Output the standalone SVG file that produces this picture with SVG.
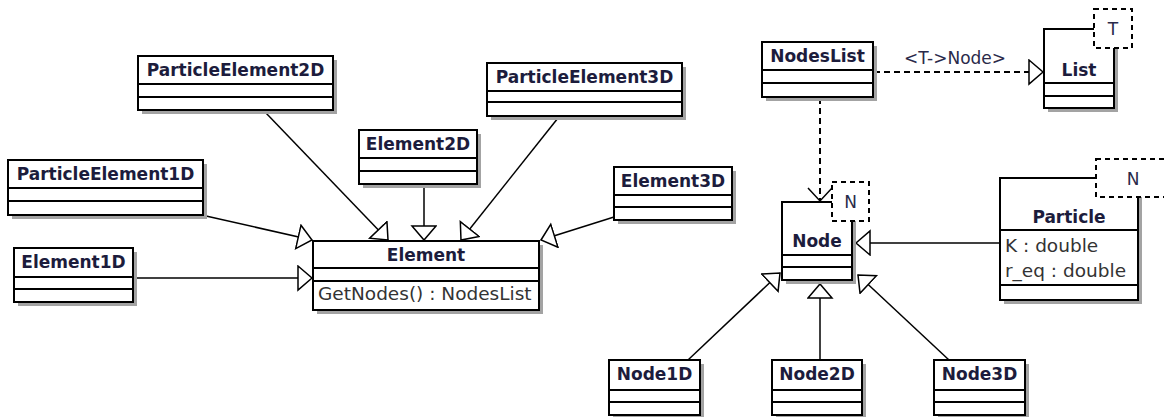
<svg xmlns="http://www.w3.org/2000/svg" width="1164" height="417" viewBox="0 0 1164 417">
  <style>
    .shadow{fill:#a3a3a3}
    .box{fill:#fff;stroke:#000;stroke-width:2}
    .div{stroke:#000;stroke-width:2}
    .tpl{fill:#fff;stroke:#000;stroke-width:2;stroke-dasharray:5 4}
    .name{font-family:"DejaVu Sans",Verdana,sans-serif;font-weight:bold;font-size:17px;fill:#1c1c3c;text-anchor:middle}
    .attr{font-family:"DejaVu Sans",Verdana,sans-serif;font-size:18.5px;fill:#333}
    .param{font-family:"DejaVu Sans",Verdana,sans-serif;font-size:17px;fill:#2a2a4a;text-anchor:middle}
    .edge{stroke:#000;stroke-width:1.5;fill:none}
    .dash{stroke-width:2;stroke-dasharray:6 4}
  </style>
  <defs>
    <!-- hollow triangle: generalization / realization -->
    <marker id="gen" markerUnits="userSpaceOnUse" markerWidth="18" markerHeight="28" refX="15" refY="13" orient="auto">
      <path d="M1,1 L15,13 L1,25 Z" fill="#fff" stroke="#000" stroke-width="1.5"/>
    </marker>
    <!-- open arrow: dependency -->
    <marker id="dep" markerUnits="userSpaceOnUse" markerWidth="18" markerHeight="28" refX="14" refY="13" orient="auto">
      <path d="M1,1 L14,13 L1,25" fill="none" stroke="#000" stroke-width="1.5"/>
    </marker>
  </defs>

  <g id="connectors">
    <line class="edge" x1="265" y1="112" x2="388" y2="240" marker-end="url(#gen)"/>
    <line class="edge" x1="558" y1="118" x2="461" y2="240" marker-end="url(#gen)"/>
    <line class="edge" x1="424" y1="185" x2="424" y2="240" marker-end="url(#gen)"/>
    <line class="edge" x1="206" y1="216" x2="312" y2="240" marker-end="url(#gen)"/>
    <line class="edge" x1="134" y1="278" x2="312" y2="278" marker-end="url(#gen)"/>
    <line class="edge" x1="614" y1="217" x2="541" y2="240" marker-end="url(#gen)"/>
    <line class="edge dash" x1="874" y1="72" x2="1043" y2="72" marker-end="url(#gen)"/>
    <text class="param" x="955" y="64">&lt;T-&gt;Node&gt;</text>
    <line class="edge dash" x1="820" y1="98" x2="820" y2="201" marker-end="url(#dep)"/>
    <line class="edge" x1="1000" y1="243" x2="856" y2="243" marker-end="url(#gen)"/>
    <line class="edge" x1="688" y1="360" x2="780" y2="273" marker-end="url(#gen)"/>
    <line class="edge" x1="820" y1="360" x2="820" y2="284" marker-end="url(#gen)"/>
    <line class="edge" x1="949" y1="360" x2="858" y2="275" marker-end="url(#gen)"/>
  </g>

  <g id="ParticleElement2D">
    <rect class="shadow" x="142" y="60" width="195" height="54"/>
    <rect class="box" x="138" y="56" width="195" height="54"/>
    <line class="div" x1="138" y1="84" x2="333" y2="84"/>
    <line class="div" x1="138" y1="97" x2="333" y2="97"/>
    <text class="name" x="235.5" y="76">ParticleElement2D</text>
  </g>

  <g id="ParticleElement1D">
    <rect class="shadow" x="12" y="164" width="195" height="55"/>
    <rect class="box" x="8" y="160" width="195" height="55"/>
    <line class="div" x1="8" y1="188" x2="203" y2="188"/>
    <line class="div" x1="8" y1="201" x2="203" y2="201"/>
    <text class="name" x="105.5" y="180">ParticleElement1D</text>
  </g>

  <g id="Element1D">
    <rect class="shadow" x="18" y="252" width="119" height="54"/>
    <rect class="box" x="14" y="248" width="119" height="54"/>
    <line class="div" x1="14" y1="277" x2="133" y2="277"/>
    <line class="div" x1="14" y1="289" x2="133" y2="289"/>
    <text class="name" x="73.5" y="268">Element1D</text>
  </g>

  <g id="Element2D">
    <rect class="shadow" x="363" y="134" width="118" height="54"/>
    <rect class="box" x="359" y="130" width="118" height="54"/>
    <line class="div" x1="359" y1="158" x2="477" y2="158"/>
    <line class="div" x1="359" y1="171" x2="477" y2="171"/>
    <text class="name" x="418" y="150">Element2D</text>
  </g>

  <g id="ParticleElement3D">
    <rect class="shadow" x="491" y="67" width="195" height="53"/>
    <rect class="box" x="487" y="63" width="195" height="53"/>
    <line class="div" x1="487" y1="91" x2="682" y2="91"/>
    <line class="div" x1="487" y1="102" x2="682" y2="102"/>
    <text class="name" x="584.5" y="83">ParticleElement3D</text>
  </g>

  <g id="Element3D">
    <rect class="shadow" x="618" y="171" width="118" height="53"/>
    <rect class="box" x="614" y="167" width="118" height="53"/>
    <line class="div" x1="614" y1="195" x2="732" y2="195"/>
    <line class="div" x1="614" y1="207" x2="732" y2="207"/>
    <text class="name" x="673" y="187">Element3D</text>
  </g>

  <g id="Element">
    <rect class="shadow" x="317" y="245" width="226" height="69"/>
    <rect class="box" x="313" y="241" width="226" height="69"/>
    <line class="div" x1="313" y1="268" x2="539" y2="268"/>
    <line class="div" x1="313" y1="281" x2="539" y2="281"/>
    <text class="name" x="426" y="261">Element</text>
    <text class="attr" x="318" y="300">GetNodes() : NodesList</text>
  </g>

  <g id="NodesList">
    <rect class="shadow" x="766" y="46" width="111" height="55"/>
    <rect class="box" x="762" y="42" width="111" height="55"/>
    <line class="div" x1="762" y1="70" x2="873" y2="70"/>
    <line class="div" x1="762" y1="83" x2="873" y2="83"/>
    <text class="name" x="817.5" y="62">NodesList</text>
  </g>

  <g id="List">
    <rect class="shadow" x="1048" y="33" width="70" height="79"/>
    <rect class="box" x="1044" y="29" width="70" height="79"/>
    <line class="div" x1="1044" y1="83" x2="1114" y2="83"/>
    <line class="div" x1="1044" y1="96" x2="1114" y2="96"/>
    <rect class="tpl" x="1094" y="9" width="38" height="39"/>
    <text class="param" x="1113" y="35">T</text>
    <text class="name" x="1079" y="76">List</text>
  </g>

  <g id="Node">
    <rect class="shadow" x="786" y="206" width="70" height="78"/>
    <rect class="box" x="782" y="202" width="70" height="78"/>
    <line class="div" x1="782" y1="255" x2="852" y2="255"/>
    <line class="div" x1="782" y1="267" x2="852" y2="267"/>
    <rect class="tpl" x="832" y="182" width="37" height="39"/>
    <text class="param" x="850.5" y="208">N</text>
    <text class="name" x="817" y="247">Node</text>
  </g>

  <g id="Particle">
    <rect class="shadow" x="1004" y="182" width="138" height="122"/>
    <rect class="box" x="1000" y="178" width="138" height="122"/>
    <line class="div" x1="1000" y1="230" x2="1138" y2="230"/>
    <line class="div" x1="1000" y1="285" x2="1138" y2="285"/>
    <rect class="tpl" x="1096" y="159" width="80" height="38"/>
    <text class="param" x="1133" y="185">N</text>
    <text class="name" x="1069" y="223">Particle</text>
    <text class="attr" x="1005" y="252">K : double</text>
    <text class="attr" x="1005" y="277">r_eq : double</text>
  </g>

  <g id="Node1D">
    <rect class="shadow" x="613" y="364" width="91" height="55"/>
    <rect class="box" x="609" y="360" width="91" height="55"/>
    <line class="div" x1="609" y1="390" x2="700" y2="390"/>
    <line class="div" x1="609" y1="402" x2="700" y2="402"/>
    <text class="name" x="654.5" y="380">Node1D</text>
  </g>

  <g id="Node2D">
    <rect class="shadow" x="776" y="364" width="90" height="55"/>
    <rect class="box" x="772" y="360" width="90" height="55"/>
    <line class="div" x1="772" y1="390" x2="862" y2="390"/>
    <line class="div" x1="772" y1="402" x2="862" y2="402"/>
    <text class="name" x="817" y="380">Node2D</text>
  </g>

  <g id="Node3D">
    <rect class="shadow" x="938" y="364" width="91" height="55"/>
    <rect class="box" x="934" y="360" width="91" height="55"/>
    <line class="div" x1="934" y1="390" x2="1025" y2="390"/>
    <line class="div" x1="934" y1="402" x2="1025" y2="402"/>
    <text class="name" x="979.5" y="380">Node3D</text>
  </g>
</svg>
